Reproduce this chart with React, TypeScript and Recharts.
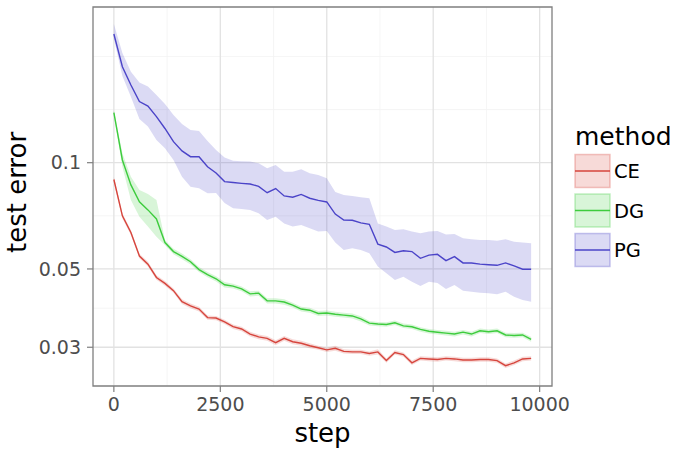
import { ComposedChart, Line, Area, XAxis, YAxis, CartesianGrid, ReferenceArea } from 'recharts';

const steps = [
  0, 200, 400, 600, 800, 1000, 1200, 1400, 1600, 1800,
  2000, 2200, 2400, 2600, 2800, 3000, 3200, 3400, 3600, 3800,
  4000, 4200, 4400, 4600, 4800, 5000, 5200, 5400, 5600, 5800,
  6000, 6200, 6400, 6600, 6800, 7000, 7200, 7400, 7600, 7800,
  8000, 8200, 8400, 8600, 8800, 9000, 9200, 9400, 9600, 9800,
];

const ceMean = [
  0.0896, 0.0707, 0.0634, 0.0544, 0.0516, 0.0473, 0.0455, 0.0434, 0.0404, 0.0393,
  0.0385, 0.0364, 0.0363, 0.0354, 0.0343, 0.0338, 0.0327, 0.0321, 0.0318, 0.0309,
  0.0318, 0.0311, 0.0308, 0.0303, 0.0299, 0.0295, 0.0298, 0.0292, 0.0291, 0.0291,
  0.0288, 0.0291, 0.0275, 0.029, 0.0286, 0.0271, 0.0279, 0.0278, 0.0277, 0.0279,
  0.0278, 0.0276, 0.0276, 0.0277, 0.0277, 0.0275, 0.0266, 0.0271, 0.0278, 0.0279,
];
const ceLow = [
  0.088, 0.0695, 0.0624, 0.0536, 0.0508, 0.0466, 0.0448, 0.0428, 0.0398, 0.0387,
  0.0379, 0.0359, 0.0358, 0.0349, 0.0338, 0.0333, 0.0322, 0.0316, 0.0313, 0.0304,
  0.0313, 0.0306, 0.0303, 0.0298, 0.0295, 0.0291, 0.0293, 0.0288, 0.0287, 0.0287,
  0.0284, 0.0286, 0.0271, 0.0286, 0.0282, 0.0267, 0.0275, 0.0274, 0.0273, 0.0275,
  0.0274, 0.0272, 0.0272, 0.0273, 0.0273, 0.0271, 0.0262, 0.0267, 0.0274, 0.0275,
];
const ceHigh = [
  0.0912, 0.0719, 0.0644, 0.0552, 0.0524, 0.048, 0.0462, 0.044, 0.041, 0.0399,
  0.0391, 0.0369, 0.0368, 0.0359, 0.0348, 0.0343, 0.0332, 0.0326, 0.0323, 0.0314,
  0.0323, 0.0316, 0.0313, 0.0308, 0.0303, 0.0299, 0.0303, 0.0296, 0.0295, 0.0295,
  0.0292, 0.0296, 0.0279, 0.0294, 0.029, 0.0275, 0.0283, 0.0282, 0.0281, 0.0283,
  0.0282, 0.028, 0.028, 0.0281, 0.0281, 0.0279, 0.027, 0.0275, 0.0282, 0.0283,
];

const dgMean = [
  0.1386, 0.1018, 0.0865, 0.0775, 0.0735, 0.0693, 0.0594, 0.056, 0.0543, 0.0524,
  0.0498, 0.0482, 0.0469, 0.0451, 0.0447, 0.0439, 0.0425, 0.0427, 0.0406, 0.0406,
  0.0403, 0.0395, 0.0385, 0.0382, 0.0374, 0.0375, 0.0372, 0.037, 0.0368, 0.0361,
  0.0351, 0.0349, 0.0348, 0.0352, 0.0345, 0.0343, 0.0337, 0.0333, 0.0331, 0.0329,
  0.0327, 0.0331, 0.0327, 0.0334, 0.0332, 0.0334, 0.0325, 0.0324, 0.0325, 0.0316,
];
const dgLow = [
  0.137, 0.0974, 0.0784, 0.0703, 0.0659, 0.0617, 0.0585, 0.055, 0.0533, 0.0515,
  0.049, 0.0474, 0.0461, 0.0443, 0.044, 0.0432, 0.0418, 0.042, 0.0399, 0.0399,
  0.0396, 0.0389, 0.0379, 0.0376, 0.0368, 0.0369, 0.0366, 0.0364, 0.0362, 0.0355,
  0.0346, 0.0344, 0.0343, 0.0347, 0.034, 0.0338, 0.0332, 0.0328, 0.0326, 0.0324,
  0.0322, 0.0326, 0.0322, 0.0329, 0.0327, 0.0329, 0.032, 0.0319, 0.032, 0.0311,
];
const dgHigh = [
  0.1405, 0.1063, 0.0913, 0.0837, 0.0815, 0.0784, 0.0604, 0.057, 0.0553, 0.0533,
  0.0506, 0.049, 0.0477, 0.0459, 0.0454, 0.0446, 0.0432, 0.0434, 0.0413, 0.0413,
  0.041, 0.0401, 0.0391, 0.0388, 0.038, 0.0381, 0.0378, 0.0376, 0.0374, 0.0367,
  0.0356, 0.0354, 0.0353, 0.0357, 0.035, 0.0348, 0.0342, 0.0338, 0.0336, 0.0334,
  0.0332, 0.0336, 0.0332, 0.0339, 0.0337, 0.0339, 0.033, 0.0329, 0.033, 0.0321,
];

const pgMean = [
  0.2315, 0.187, 0.166, 0.149, 0.1447, 0.135, 0.125, 0.1147, 0.108, 0.104,
  0.104, 0.0974, 0.0935, 0.0884, 0.0879, 0.0874, 0.087, 0.0857, 0.0822, 0.0845,
  0.0805, 0.0798, 0.0813, 0.0793, 0.0782, 0.0774, 0.0715, 0.0688, 0.0687, 0.0675,
  0.0669, 0.0588, 0.0577, 0.0557, 0.0563, 0.056, 0.0536, 0.0547, 0.055, 0.0528,
  0.0542, 0.052, 0.052, 0.0516, 0.0514, 0.0512, 0.052, 0.051, 0.0499, 0.0499,
];
const pgLow = [
  0.2248, 0.176, 0.1538, 0.133, 0.1266, 0.116, 0.1099, 0.1018, 0.0913, 0.0855,
  0.0846, 0.0819, 0.0821, 0.0769, 0.0743, 0.0739, 0.0735, 0.0719, 0.0688, 0.0703,
  0.0673, 0.0659, 0.0666, 0.0652, 0.0638, 0.064, 0.0594, 0.0566, 0.0572, 0.0566,
  0.0554, 0.0508, 0.0486, 0.0465, 0.0475, 0.046, 0.0447, 0.046, 0.0456, 0.0439,
  0.045, 0.0434, 0.0431, 0.0428, 0.0427, 0.0424, 0.0431, 0.0417, 0.0408, 0.0404,
];
const pgHigh = [
  0.247, 0.2046, 0.181, 0.1687, 0.1644, 0.1555, 0.1467, 0.1365, 0.1287, 0.1238,
  0.1229, 0.1152, 0.1086, 0.1035, 0.1013, 0.101, 0.1007, 0.0996, 0.0964, 0.0985,
  0.0943, 0.0943, 0.0958, 0.0933, 0.0923, 0.0903, 0.0826, 0.081, 0.0805, 0.0798,
  0.0793, 0.0673, 0.0659, 0.0645, 0.0648, 0.0638, 0.0631, 0.0638, 0.064, 0.0626,
  0.0628, 0.0611, 0.0607, 0.0604, 0.0604, 0.0601, 0.0607, 0.0597, 0.0594, 0.0591,
];

const xTicks = [0, 2500, 5000, 7500, 10000];
const xMinor = [1250, 3750, 6250, 8750];
const yTicks = [0.03, 0.05, 0.1];
const yMinor = [0.0387, 0.0707, 0.1414, 0.2];

const methods = ['CE', 'DG', 'PG'];
const colors = ['#d6453d', '#3dcc3d', '#4b44c8'];

const X_DOMAIN = [-490, 10290];
const Y_DOMAIN = [0.0233, 0.2761];
const FONT = 'DejaVu Sans';

const rows = steps.map((step, i) => ({
  step,
  ce: ceMean[i],
  dg: dgMean[i],
  pg: pgMean[i],
  ceBand: [ceLow[i], ceHigh[i]],
  dgBand: [dgLow[i], dgHigh[i]],
  pgBand: [pgLow[i], pgHigh[i]],
}));

function App() {
  const tickStyle = { fontSize: 19, fill: '#4d4d4d', fontFamily: FONT };
  return (
    <div style={{ position: 'absolute', left: 0, top: 0, width: 680, height: 453, background: '#fff' }}>
      <ComposedChart
        width={680}
        height={453}
        data={rows}
        margin={{ top: 7, right: 128, bottom: 0, left: 0 }}
      >
        <CartesianGrid stroke="#f2f2f2" strokeWidth={0.8} verticalValues={xMinor} horizontalValues={yMinor} />
        <CartesianGrid stroke="#e2e2e2" strokeWidth={1.3} verticalValues={xTicks} horizontalValues={yTicks} />
        <XAxis
          type="number"
          dataKey="step"
          domain={X_DOMAIN}
          ticks={xTicks}
          interval={0}
          allowDataOverflow
          height={67}
          tickSize={6}
          tickMargin={6}
          axisLine={false}
          tickLine={{ stroke: '#7f7f7f', strokeWidth: 1.2 }}
          tick={tickStyle}
        />
        <YAxis
          type="number"
          scale="log"
          domain={Y_DOMAIN}
          ticks={yTicks}
          interval={0}
          allowDataOverflow
          width={93}
          tickSize={6}
          tickMargin={6}
          axisLine={false}
          tickLine={{ stroke: '#7f7f7f', strokeWidth: 1.2 }}
          tick={tickStyle}
          tickFormatter={(v) => String(v)}
        />
        <Area type="linear" dataKey="ceBand" stroke="none" fill={colors[0]} fillOpacity={0.2} isAnimationActive={false} />
        <Area type="linear" dataKey="dgBand" stroke="none" fill={colors[1]} fillOpacity={0.2} isAnimationActive={false} />
        <Area type="linear" dataKey="pgBand" stroke="none" fill={colors[2]} fillOpacity={0.2} isAnimationActive={false} />
        <Line type="linear" dataKey="ce" stroke={colors[0]} strokeWidth={1.4} dot={false} isAnimationActive={false} />
        <Line type="linear" dataKey="dg" stroke={colors[1]} strokeWidth={1.4} dot={false} isAnimationActive={false} />
        <Line type="linear" dataKey="pg" stroke={colors[2]} strokeWidth={1.4} dot={false} isAnimationActive={false} />
        <ReferenceArea
          x1={X_DOMAIN[0]}
          x2={X_DOMAIN[1]}
          y1={Y_DOMAIN[0]}
          y2={Y_DOMAIN[1]}
          fill="none"
          stroke="#7f7f7f"
          strokeWidth={1.3}
        />
      </ComposedChart>
      <svg
        width={680}
        height={453}
        style={{ position: 'absolute', left: 0, top: 0, pointerEvents: 'none' }}
        fontFamily={FONT}
      >
        <text x={322.5} y={441.5} fontSize={26} textAnchor="middle" fill="#000">step</text>
        <text x={26} y={192.5} fontSize={26} textAnchor="middle" fill="#000" transform="rotate(-90 26 192.5)">
          test error
        </text>
        <text x={575} y={145} fontSize={25} fill="#000">method</text>
        {methods.map((m, i) => {
          const y = 154.5 + i * 39.5;
          return (
            <g key={m}>
              <rect x={575} y={y} width={35} height={33} fill={colors[i]} fillOpacity={0.2} stroke={colors[i]} strokeOpacity={0.3} strokeWidth={1.5} />
              <line x1={575} x2={610} y1={y + 16.5} y2={y + 16.5} stroke={colors[i]} strokeWidth={1.4} />
              <text x={614} y={y + 23.5} fontSize={19.5} fill="#000">{m}</text>
            </g>
          );
        })}
      </svg>
    </div>
  );
}

export default App;
